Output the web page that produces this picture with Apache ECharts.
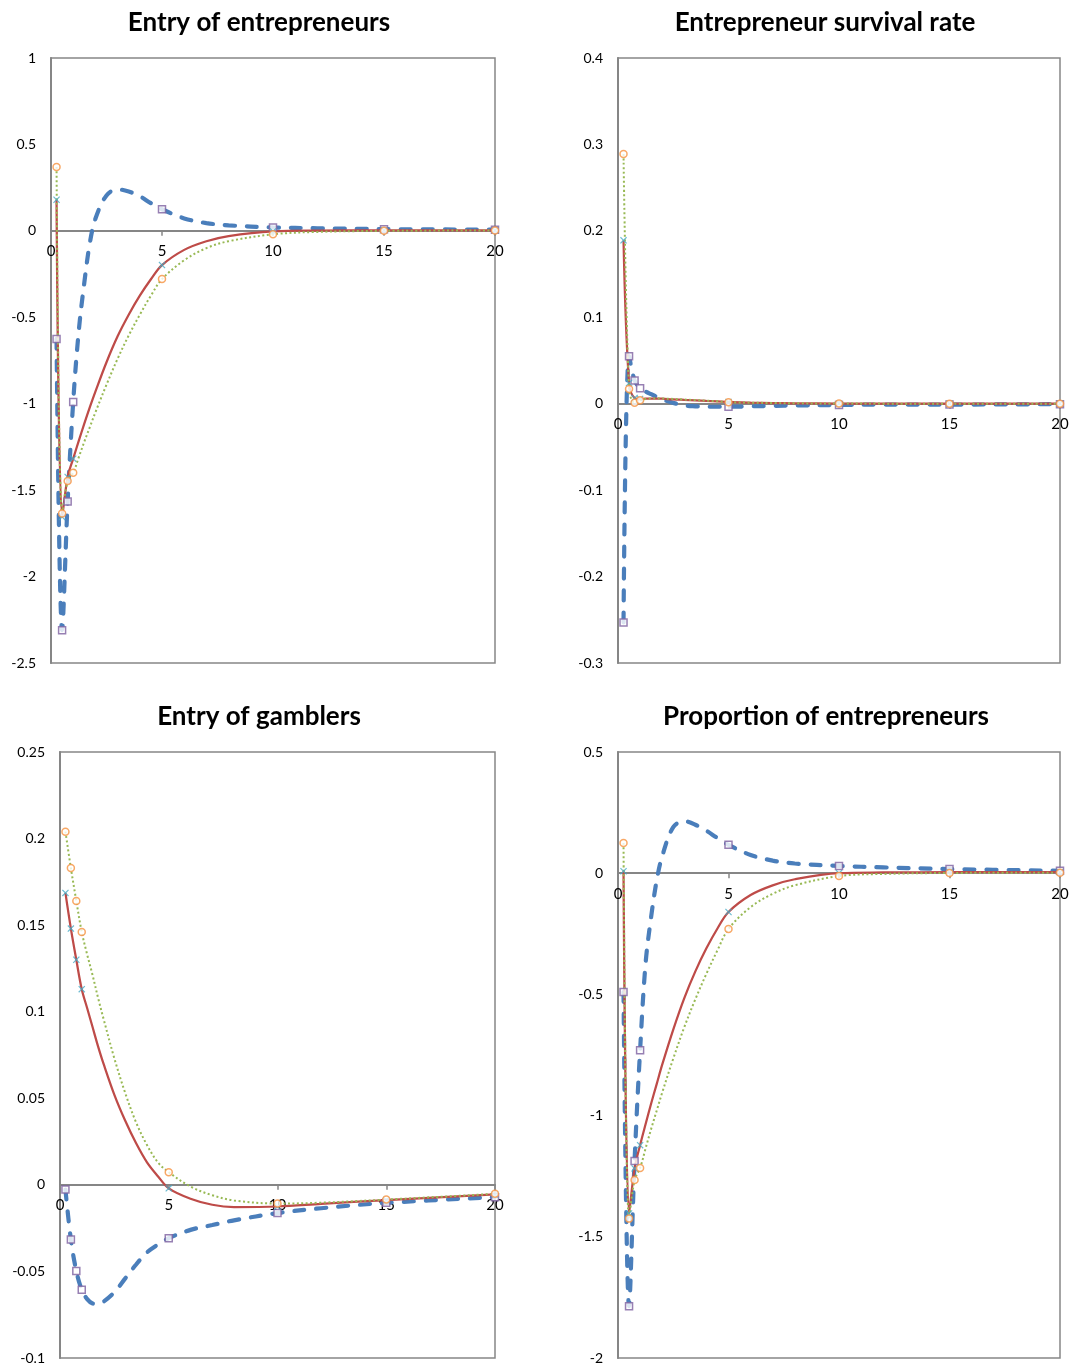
<!DOCTYPE html>
<html><head><meta charset="utf-8">
<script src="https://cdn.jsdelivr.net/npm/echarts@6/dist/echarts.min.js"></script>
<style>html,body{margin:0;padding:0;background:#fff}#c{width:1072px;height:1368px}</style>
</head><body><div id="c"></div>
<script>
// ---------- DATA ----------
const xGrid = [0.25,0.5,0.75,1,1.25,1.5,1.75,2,2.5,3,3.5,4,4.5,5,6,7,8,10,12,15,20];
const markerX = [0.25,0.5,0.75,1,5,10,15,20];
const panelTitles = ['Entry of entrepreneurs','Entrepreneur survival rate','Entry of gamblers','Proportion of entrepreneurs'];
const xTickInterval = 5;
const yRanges = [[-2.5,1,0.5],[-0.3,0.4,0.1],[-0.1,0.25,0.05],[-2,0.5,0.5]];

// Panel 1: Entry of entrepreneurs
const entryEntBlue  = [-0.625,-2.31,-1.565,-0.99,-0.58,-0.30,-0.07,0.07,0.205,0.24,0.228,0.2,0.16,0.125,0.072,0.045,0.032,0.02,0.015,0.01,0.007];
const entryEntRed   = [0.18,-1.655,-1.424,-1.318,-1.215,-1.115,-1.02,-0.93,-0.76,-0.61,-0.485,-0.375,-0.28,-0.198,-0.11,-0.06,-0.03,-0.003,0.002,0.003,0.003];
const entryEntGreen = [0.37,-1.635,-1.447,-1.40,-1.31,-1.22,-1.135,-1.05,-0.89,-0.74,-0.605,-0.485,-0.375,-0.279,-0.17,-0.10,-0.06,-0.02,-0.006,0.0,0.002];
// Panel 2: Entrepreneur survival rate
const survBlue  = [-0.253,0.055,0.027,0.018,0.014,0.011,0.008,0.005,0.001,-0.002,-0.003,-0.0035,-0.0035,-0.0035,-0.003,-0.0025,-0.002,-0.0015,-0.001,-0.001,-0.0005];
const survRed   = [0.189,0.024,0.0066,0.0055,0.0058,0.006,0.006,0.0058,0.005,0.0045,0.004,0.0033,0.0027,0.002,0.0013,0.0008,0.0005,0.0002,0.0001,0,0];
const survGreen = [0.289,0.017,0.001,0.004,0.0055,0.006,0.0062,0.006,0.0055,0.0048,0.0042,0.0035,0.0028,0.0018,0.0012,0.0008,0.0005,0.0002,0.0001,0,0];
// Panel 3: Entry of gamblers
const gambBlue  = [-0.0027,-0.0316,-0.0497,-0.0606,-0.066,-0.0685,-0.0688,-0.0675,-0.062,-0.054,-0.046,-0.039,-0.0345,-0.0308,-0.026,-0.0232,-0.0205,-0.0163,-0.0135,-0.0104,-0.0071];
const gambRed   = [0.1686,0.148,0.130,0.113,0.102,0.091,0.080,0.070,0.052,0.037,0.024,0.013,0.005,-0.002,-0.008,-0.0115,-0.0128,-0.0125,-0.011,-0.0088,-0.0055];
const gambGreen = [0.204,0.183,0.164,0.146,0.133,0.121,0.108,0.096,0.073,0.053,0.036,0.023,0.013,0.0073,-0.001,-0.006,-0.009,-0.0108,-0.0103,-0.0085,-0.0052];
// Panel 4: Proportion of entrepreneurs
const propBlue  = [-0.49,-1.786,-1.187,-0.730,-0.37,-0.18,-0.03,0.07,0.19,0.215,0.2,0.175,0.145,0.117,0.075,0.052,0.04,0.03,0.024,0.017,0.01];
const propRed   = [0.008,-1.404,-1.218,-1.122,-1.035,-0.95,-0.87,-0.79,-0.645,-0.515,-0.405,-0.31,-0.228,-0.16,-0.09,-0.05,-0.025,0.0,0.003,0.004,0.004];
const propGreen = [0.125,-1.425,-1.266,-1.216,-1.135,-1.055,-0.98,-0.905,-0.765,-0.635,-0.52,-0.415,-0.318,-0.23,-0.14,-0.085,-0.05,-0.012,-0.003,0.001,0.002];

const panelData = [
  [entryEntBlue, entryEntRed, entryEntGreen],
  [survBlue, survRed, survGreen],
  [gambBlue, gambRed, gambGreen],
  [propBlue, propRed, propGreen]
];

// ---------- LAYOUT / STYLE ----------
const grids = [
  {left: 51, top: 58, width: 444, height: 605},
  {left: 618, top: 58, width: 442, height: 605},
  {left: 60, top: 752, width: 435, height: 606},
  {left: 618, top: 752, width: 442, height: 606}
];
const titlePos = [[259, 10], [825, 10], [259, 704], [826, 704]];
const FONT = 'Lato, "Open Sans", sans-serif';
const AXIS = '#868686';
const lineStyles = [
  {color: '#4A7EBB', width: 4.2, type: [10, 12], cap: 'round'},
  {color: '#BE4B48', width: 2.25, type: 'solid'},
  {color: '#98B954', width: 2, type: [2, 2.5]}
];
const XPATH = 'path://M0,1.2 L1.2,0 L5,3.8 L8.8,0 L10,1.2 L6.2,5 L10,8.8 L8.8,10 L5,6.2 L1.2,10 L0,8.8 L3.8,5 Z';
const markerStyles = [
  {symbol: 'rect', size: 7, itemStyle: {color: '#fff', borderColor: '#7D60A0', borderWidth: 1.5}},
  {symbol: XPATH, size: 7, itemStyle: {color: '#46AAC5'}},
  {symbol: 'circle', size: 7, itemStyle: {color: '#fff', borderColor: '#F69240', borderWidth: 1.5}}
];

const option = {
  animation: false,
  backgroundColor: '#fff',
  title: panelTitles.map((t, i) => ({
    text: t, left: titlePos[i][0], top: titlePos[i][1], textAlign: 'center', padding: 0,
    textStyle: {fontFamily: FONT, fontWeight: 'bold', fontSize: 26, color: '#000'}
  })),
  grid: grids.map(g => Object.assign({show: true, borderColor: AXIS, borderWidth: 1.5, backgroundColor: 'transparent'}, g)),
  xAxis: grids.map((g, i) => {
    const r = yRanges[i];
    // place the horizontal axis where y = 0 (axis crosses at zero, as in the source)
    const zeroOffset = -g.height * (0 - r[0]) / (r[1] - r[0]);
    return {
      type: 'value', gridIndex: i, min: 0, max: 20, interval: xTickInterval,
      position: 'bottom', offset: zeroOffset,
      axisLine: {show: true, onZero: false, lineStyle: {color: AXIS, width: 2}},
      axisTick: {show: true, inside: false, length: 5, lineStyle: {color: AXIS, width: 1.5}},
      axisLabel: {color: '#000', fontFamily: FONT, fontSize: 15, margin: 13, showMinLabel: true, showMaxLabel: true},
      splitLine: {show: false}
    };
  }),
  yAxis: yRanges.map((r, i) => ({
    type: 'value', gridIndex: i, min: r[0], max: r[1], interval: r[2],
    axisLine: {show: true, onZero: false, lineStyle: {color: AXIS, width: 2}},
    axisTick: {show: false},
    axisLabel: {color: '#000', fontFamily: FONT, fontSize: 14, margin: 15,
      formatter: v => String(Math.round(v * 1000) / 1000)},
    splitLine: {show: false}
  })),
  series: []
};

panelData.forEach((sets, p) => {
  sets.forEach((vals, s) => {
    option.series.push({
      type: 'line', xAxisIndex: p, yAxisIndex: p, smooth: 0.35, showSymbol: false, symbol: 'none',
      data: xGrid.map((x, k) => [x, vals[k]]),
      lineStyle: lineStyles[s], z: 2 + s
    });
  });
  sets.forEach((vals, s) => {
    const m = markerStyles[s];
    option.series.push({
      type: 'scatter', xAxisIndex: p, yAxisIndex: p, symbol: m.symbol, symbolSize: m.size,
      data: markerX.map(x => [x, vals[xGrid.indexOf(x)]]),
      itemStyle: m.itemStyle, z: 6 + s
    });
  });
});

const chart = echarts.init(document.getElementById('c'), null, {renderer: 'canvas'});
chart.setOption(option);
</script>
</body></html>
